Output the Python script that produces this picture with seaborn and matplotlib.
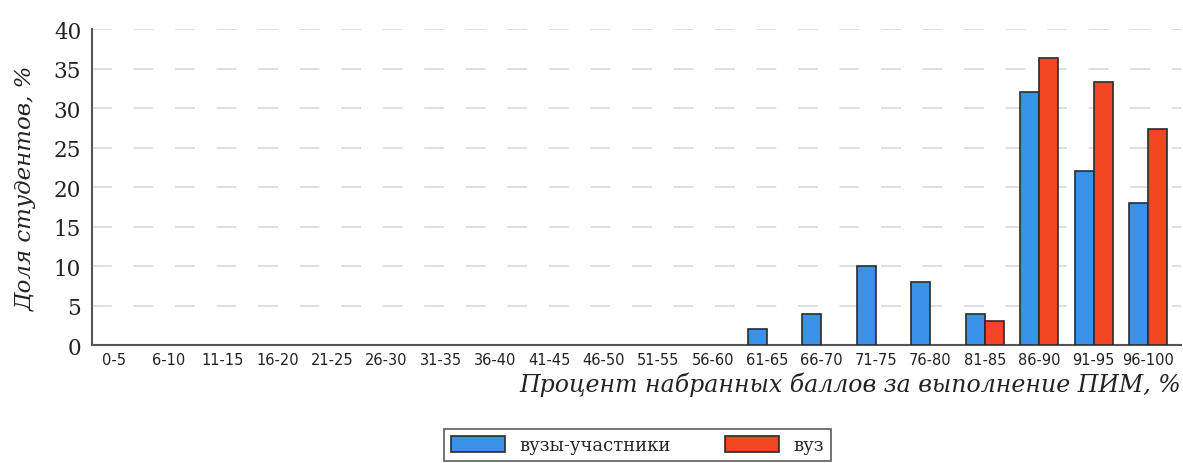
import pandas as pd
import matplotlib.pyplot as plt
import matplotlib.patches as mpatches
import seaborn as sns

# Диапазоны процентов
categories = ['0-5', '6-10', '11-15', '16-20', '21-25', '26-30', '31-35', '36-40',
              '41-45', '46-50', '51-55', '56-60', '61-65', '66-70', '71-75', '76-80',
              '81-85', '86-90', '91-95', '96-100']
# Доля студентов, %
participants = [0, 0, 0, 0, 0, 0, 0, 0, 0, 0, 0, 0, 2, 4, 10, 8, 4, 32, 22, 18]
university = [0, 0, 0, 0, 0, 0, 0, 0, 0, 0, 0, 0, 0, 0, 0, 0, 3, 36.4, 33.3, 27.3]
series_names = ['вузы-участники', 'вуз']
colors = ['#3a91ea', '#f24622']
y_ticks = [0, 5, 10, 15, 20, 25, 30, 35, 40]

df = pd.DataFrame({
    'Диапазон': categories * 2,
    'Доля': participants + university,
    'Группа': [series_names[0]] * len(categories) + [series_names[1]] * len(categories),
})

sns.set_style('white')
plt.rcParams['font.family'] = ['DejaVu Serif']

fig = plt.figure(figsize=(11.83, 4.64), dpi=100)
ax = fig.add_axes([0.078, 0.254, 0.92, 0.681])

sns.barplot(data=df, x='Диапазон', y='Доля', hue='Группа', palette=colors,
            saturation=1, width=0.7, edgecolor='#2b2b2b', linewidth=1.2, ax=ax, zorder=3,
            legend=False)

# пустые столбцы не рисуем
for p in ax.patches:
    if p.get_height() == 0:
        p.set_visible(False)

ax.set_ylim(0, 40)
ax.set_xlim(-0.4, 19.6)
ax.set_yticks(y_ticks)
ax.set_yticklabels([str(t) for t in y_ticks], fontsize=15.5, color='#222222')
ax.set_xticks(range(len(categories)))
ax.set_xticklabels(categories, fontsize=10.5, family='DejaVu Sans', color='#222222')
ax.tick_params(axis='y', length=0, pad=8)
ax.tick_params(axis='x', length=0, pad=5)

for t in y_ticks[1:]:
    ax.axhline(t, color='#dcdcdc', linewidth=1.3, linestyle=(0, (11, 12)), zorder=1)

for side in ['top', 'right']:
    ax.spines[side].set_visible(False)
for side in ['left', 'bottom']:
    ax.spines[side].set_color('#555555')
    ax.spines[side].set_linewidth(1.5)

ax.set_xlabel('Процент набранных баллов за выполнение ПИМ, %', fontsize=17,
              style='italic', color='#222222', loc='right', labelpad=3)
ax.set_ylabel('Доля студентов, %', fontsize=16.5, style='italic', color='#222222', labelpad=12)

handles = [mpatches.Patch(facecolor=c, edgecolor='#2b2b2b', linewidth=1.2) for c in colors]
leg = fig.legend(handles, series_names, ncol=2, loc='center', bbox_to_anchor=(0.539, 0.039),
                 frameon=True, fancybox=False, edgecolor='#333333', fontsize=13,
                 handlelength=3.0, handleheight=1.0, columnspacing=3.0,
                 borderpad=0.4)
leg.get_frame().set_linewidth(1.2)

fig.savefig('out.png', dpi=100)
